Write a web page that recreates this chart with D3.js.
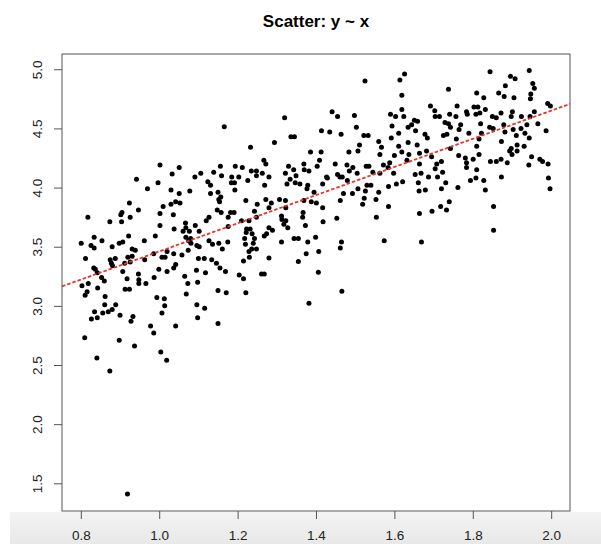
<!DOCTYPE html>
<meta charset="utf-8">
<style>
body { margin: 0; background: #fff; }
svg { display: block; font-family: "Liberation Sans", Arial, Helvetica, sans-serif; }
.title { font-size: 17px; font-weight: bold; }
.axis text { font-size: 13.5px; fill: #222; }
.axis line { stroke: #555; }
.frame { fill: none; stroke: #555; stroke-width: 1; }
.fit { fill: none; stroke: #e8352a; stroke-width: 1.8px; stroke-dasharray: 3.5,2; }
</style>
<svg width="601" height="544"></svg>
<script src="https://cdn.jsdelivr.net/npm/d3@7"></script>
<script>

var titleText = "Scatter: y ~ x";

var xTicks = [0.8, 1.0, 1.2, 1.4, 1.6, 1.8, 2.0],
    yTicks = [1.5, 2.0, 2.5, 3.0, 3.5, 4.0, 4.5, 5.0];

// fitted line y = a + b x
var fit = { a: 2.27, b: 1.19 };

// x, y pairs
var pointsLeft = [
  [1.002,4.19],[1.051,4.17],[1.156,4.18],[1.194,4.18],[1.212,4.17],[1.235,4.14],[1.248,4.14],
  [1.033,4.115],[1.106,4.12],[1.091,4.09],[1.139,4.13],[1.159,4.10],[1.185,4.09],[1.203,4.09],[1.248,4.10],
  [0.942,4.07],[1.226,4.06],[1.124,4.05],[1.131,4.02],[1.192,4.04],[1.184,4.04],[0.997,4.04],
  [0.970,3.99],[1.030,3.98],[1.078,3.97],[1.051,3.95],[1.131,3.95],[1.150,3.96],[1.157,3.92],[1.193,3.98],
  [1.030,3.86],[1.042,3.88],[1.053,3.87],[1.152,3.90],[1.154,3.88],[1.221,3.89],[1.250,3.86],
  [0.924,3.87],[1.010,3.84],[0.947,3.81],[0.905,3.79],[0.902,3.77],[1.148,3.81],[1.158,3.79],[1.176,3.75],
  [1.182,3.79],[1.191,3.79],[1.243,3.80],[1.002,3.78],[1.036,3.77],[1.127,3.75],
  [0.818,3.75],[0.874,3.71],[0.926,3.75],[0.904,3.71],[1.067,3.70],[1.092,3.68],[1.120,3.72],[1.002,3.68],
  [1.210,3.72],[1.229,3.72],[1.248,3.75],
  [1.038,3.65],[1.061,3.63],[1.068,3.66],[1.077,3.63],[1.102,3.63],[1.176,3.67],[1.223,3.65],[1.232,3.65],
  [1.237,3.61],[1.222,3.62],
  [0.801,3.53],[0.834,3.58],[0.854,3.55],[0.907,3.54],[0.898,3.53],[0.922,3.59],[0.962,3.55],[0.990,3.59],
  [1.068,3.58],[1.080,3.57],[1.075,3.55],[1.127,3.55],[1.136,3.52],[1.175,3.54],[1.218,3.57],[1.243,3.57],
  [1.240,3.53],[1.220,3.52],
  [0.826,3.51],[0.834,3.49],[0.880,3.50],[0.931,3.48],[0.939,3.47],[1.081,3.53],[1.096,3.51],[1.102,3.50],
  [1.152,3.53],[1.161,3.48],[1.236,3.48],[1.248,3.48],[1.229,3.46],
  [0.812,3.40],[0.875,3.39],[0.888,3.40],[0.920,3.41],[0.931,3.42],[0.986,3.44],[1.007,3.41],[1.015,3.41],
  [1.020,3.46],[1.037,3.44],[1.074,3.47],[1.058,3.43],[1.100,3.40],[1.115,3.40],[1.134,3.39],[1.146,3.36],
  [1.230,3.41],[1.215,3.38],
  [0.878,3.36],[0.881,3.34],[0.912,3.36],[0.926,3.37],[0.963,3.39],[1.042,3.35],
  [0.833,3.32],[0.837,3.31],[0.842,3.28],[0.907,3.29],[0.999,3.31],[1.020,3.29],[1.037,3.32],[1.095,3.30],
  [1.118,3.28],[1.155,3.32],[1.169,3.29],[1.261,3.27],
  [0.853,3.24],[0.860,3.21],[0.918,3.23],[0.947,3.27],[0.948,3.22],[0.966,3.19],[0.948,3.19],[0.987,3.24],
  [1.065,3.25],[1.073,3.19],[1.098,3.20],[1.204,3.26],[1.215,3.23],
  [0.803,3.17],[0.819,3.19],[0.843,3.15],[0.811,3.09],[0.816,3.12],[0.862,3.08],[0.913,3.14],[0.924,3.14],
  [0.994,3.07],[1.013,3.06],[1.069,3.10],[1.150,3.13],[1.171,3.11],[1.221,3.11],
  [0.861,3.01],[0.889,3.01],[0.880,2.97],[0.870,2.95],[0.856,2.94],[0.835,2.95],[0.827,2.89],[0.842,2.90],
  [0.900,2.92],[0.933,2.91],[0.928,2.87],[1.007,2.94],[1.014,3.00],[1.096,3.01],[1.116,2.98],[1.098,2.90],
  [0.978,2.83],[0.986,2.77],[1.042,2.83],[1.150,2.85],[0.810,2.73],[0.898,2.71],[0.937,2.66],
  [1.166,4.515],[1.233,4.34],
  [0.841,2.56],[0.874,2.45],[1.004,2.61],[1.019,2.54],[0.919,1.41]
];

var pointsMiddle = [
  [1.626,4.96],[1.614,4.91],[1.525,4.90],[1.619,4.78],[1.738,4.83],
  [1.692,4.69],[1.760,4.69],[1.619,4.66],[1.703,4.65],[1.441,4.64],[1.320,4.59],[1.455,4.60],[1.498,4.61],
  [1.590,4.62],[1.603,4.60],[1.624,4.60],[1.704,4.60],[1.715,4.60],[1.741,4.62],[1.757,4.60],
  [1.503,4.51],[1.594,4.52],[1.635,4.51],[1.644,4.53],[1.651,4.57],[1.659,4.56],[1.654,4.48],[1.729,4.55],
  [1.738,4.54],[1.743,4.51],[1.769,4.53],[1.765,4.49],
  [1.414,4.48],[1.435,4.47],[1.464,4.45],[1.336,4.43],[1.345,4.43],[1.522,4.44],[1.533,4.44],[1.611,4.46],
  [1.592,4.42],[1.678,4.45],[1.684,4.42],[1.725,4.44],[1.734,4.45],
  [1.294,4.38],[1.560,4.39],[1.567,4.34],[1.511,4.36],[1.611,4.35],[1.635,4.38],[1.658,4.36],[1.758,4.41],[1.743,4.33],
  [1.386,4.30],[1.413,4.30],[1.484,4.30],[1.507,4.31],[1.563,4.28],[1.600,4.27],[1.619,4.30],[1.637,4.28],
  [1.664,4.29],[1.682,4.31],
  [1.267,4.23],[1.272,4.20],[1.330,4.18],[1.369,4.20],[1.409,4.23],[1.449,4.20],[1.479,4.19],[1.494,4.17],
  [1.528,4.18],[1.535,4.18],[1.572,4.19],[1.588,4.21],[1.632,4.23],[1.664,4.20],[1.695,4.26],[1.708,4.20],
  [1.720,4.22],[1.704,4.16],[1.764,4.27],
  [1.263,4.12],[1.322,4.12],[1.343,4.15],[1.349,4.10],[1.334,4.07],[1.370,4.15],[1.382,4.14],[1.403,4.18],
  [1.427,4.09],[1.455,4.11],[1.461,4.09],[1.485,4.14],[1.505,4.12],[1.545,4.13],[1.563,4.12],[1.584,4.17],
  [1.598,4.12],[1.653,4.11],[1.668,4.12],[1.710,4.09],[1.723,4.13],[1.687,4.09],
  [1.269,4.02],[1.280,4.09],[1.326,4.03],[1.347,4.04],[1.359,4.03],[1.379,4.02],[1.377,3.99],[1.395,3.96],
  [1.417,4.03],[1.429,4.08],[1.467,4.09],[1.480,4.06],[1.507,3.99],[1.530,4.02],[1.540,4.02],[1.585,4.01],
  [1.605,4.03],[1.621,4.05],[1.661,4.04],[1.731,4.04],[1.762,4.00],
  [1.272,3.90],[1.286,3.87],[1.307,3.90],[1.322,3.89],[1.323,3.83],[1.369,3.89],[1.388,3.88],[1.401,3.87],
  [1.417,3.83],[1.462,3.89],[1.470,3.95],[1.493,3.95],[1.519,3.86],[1.523,3.91],[1.526,3.97],[1.553,3.90],
  [1.560,3.96],[1.663,3.97],[1.679,3.98],[1.720,3.99],[1.740,3.88],[1.718,3.84],
  [1.280,3.83],[1.367,3.79],[1.366,3.75],[1.312,3.76],[1.313,3.73],[1.323,3.72],[1.318,3.69],[1.328,3.66],
  [1.373,3.68],[1.418,3.71],[1.453,3.74],[1.554,3.75],[1.585,3.84],[1.664,3.78],[1.696,3.80],[1.733,3.81],
  [1.268,3.59],[1.280,3.66],[1.289,3.64],[1.274,3.61],[1.344,3.57],[1.355,3.57],[1.379,3.54],[1.399,3.58],
  [1.312,3.54],[1.465,3.54],[1.574,3.55],[1.669,3.54],[1.375,3.44],[1.407,3.46],[1.462,3.49],
  [1.280,3.405],[1.355,3.374],[1.268,3.27],[1.406,3.284],[1.466,3.123],[1.382,3.022]
];

var pointsRight = [
  [1.844,4.98],[1.944,4.99],[1.896,4.94],[1.908,4.92],[1.953,4.88],[1.957,4.84],[1.883,4.86],[1.948,4.79],
  [1.947,4.75],[1.810,4.80],[1.866,4.80],[1.880,4.77],[1.905,4.76],[1.828,4.76],
  [1.803,4.68],[1.813,4.68],[1.832,4.66],[1.784,4.64],[1.786,4.62],[1.808,4.62],[1.818,4.63],[1.872,4.63],
  [1.901,4.64],[1.898,4.60],[1.924,4.60],[1.850,4.60],[1.860,4.59],[1.957,4.64],[1.946,4.60],[1.991,4.71],[1.998,4.69],
  [1.820,4.54],[1.843,4.51],[1.852,4.50],[1.879,4.53],[1.882,4.47],[1.903,4.49],[1.911,4.44],[1.923,4.50],
  [1.938,4.53],[1.933,4.46],[1.944,4.42],[1.966,4.54],[1.987,4.48],[1.790,4.46],[1.822,4.46],[1.816,4.41],
  [1.810,4.35],[1.873,4.39],[1.913,4.36],[1.931,4.35],[1.898,4.33],[1.894,4.31],[1.900,4.28],[1.913,4.31],
  [1.816,4.28],[1.781,4.25],[1.784,4.21],[1.784,4.17],[1.801,4.24],[1.845,4.22],[1.860,4.22],[1.872,4.24],
  [1.888,4.21],[1.950,4.26],[1.971,4.24],[1.978,4.22],[1.992,4.20],[1.943,4.19],[1.810,4.15],
  [1.794,4.06],[1.808,4.08],[1.828,4.06],[1.832,3.98],[1.873,4.09],[1.993,4.08],[1.997,3.99],
  [1.853,3.84],[1.853,3.64]
];

var points = pointsLeft.concat(pointsMiddle, pointsRight);

var svg = d3.select("svg"),
    margin = { top: 54, right: 31, bottom: 33, left: 62 },
    width = +svg.attr("width") - margin.left - margin.right,
    height = +svg.attr("height") - margin.top - margin.bottom;

var x = d3.scaleLinear().domain([0.752, 2.048]).range([0, width]),
    y = d3.scaleLinear().domain([1.266, 5.129]).range([height, 0]);

// light grey strip behind the x tick labels
var grad = svg.append("defs").append("linearGradient")
    .attr("id", "band").attr("x1", 0).attr("y1", 0).attr("x2", 0).attr("y2", 1);
grad.append("stop").attr("offset", "0%").attr("stop-color", "#f3f3f3");
grad.append("stop").attr("offset", "100%").attr("stop-color", "#e8e8e8");

svg.append("rect")
    .attr("x", 10).attr("y", margin.top + height + 1)
    .attr("width", 591).attr("height", 544 - (margin.top + height + 1))
    .attr("fill", "url(#band)");

svg.append("text")
    .attr("class", "title")
    .attr("x", margin.left + width / 2)
    .attr("y", 27)
    .attr("text-anchor", "middle")
    .text(titleText);

var g = svg.append("g").attr("transform", "translate(" + margin.left + "," + margin.top + ")");

g.append("defs").append("clipPath").attr("id", "plotclip")
  .append("rect").attr("width", width).attr("height", height);

g.append("g")
    .attr("class", "axis")
    .attr("transform", "translate(0," + height + ")")
    .call(d3.axisBottom(x).tickValues(xTicks).tickFormat(d3.format(".1f")).tickSize(8).tickPadding(11))
    .call(function(a) { a.select(".domain").remove(); });

g.append("g")
    .attr("class", "axis")
    .call(d3.axisLeft(y).tickValues(yTicks).tickFormat(d3.format(".1f")).tickSize(8))
    .call(function(a) { a.select(".domain").remove(); })
    .selectAll("text")
      .attr("x", null).attr("dy", null)
      .attr("text-anchor", "middle")
      .attr("transform", "translate(-20,0) rotate(-90)");

g.append("g")
  .selectAll("circle")
  .data(points)
  .enter().append("circle")
    .attr("cx", function(d) { return x(d[0]); })
    .attr("cy", function(d) { return y(d[1]); })
    .attr("r", 2.5)
    .attr("fill", "#000");

var xd = x.domain();
g.append("line")
    .attr("class", "fit")
    .attr("clip-path", "url(#plotclip)")
    .attr("x1", x(xd[0])).attr("y1", y(fit.a + fit.b * xd[0]))
    .attr("x2", x(xd[1])).attr("y2", y(fit.a + fit.b * xd[1]));

g.append("rect")
    .attr("class", "frame")
    .attr("x", 0).attr("y", 0)
    .attr("width", width).attr("height", height);

</script>
